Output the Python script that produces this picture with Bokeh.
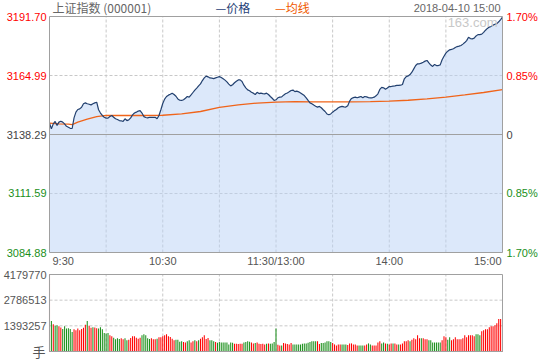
from bokeh.plotting import figure
from bokeh.models import Range1d, Label
from bokeh.embed import file_html
from bokeh.resources import INLINE

# ---------------- data ----------------
minutes = list(range(241))
price = [
    3143.4, 3140.9, 3143.1, 3144.2, 3142.4, 3143.9, 3144.3, 3143.9, 3143.1, 3142.0,
    3141.6, 3141.1, 3141.0, 3145.8, 3148.4, 3149.6, 3149.9, 3150.6, 3152.2, 3152.6,
    3152.2, 3152.0, 3151.7, 3152.2, 3152.6, 3152.9, 3149.5, 3148.0, 3146.9, 3146.1,
    3145.7, 3145.7, 3146.4, 3146.9, 3146.1, 3145.4, 3145.1, 3144.6, 3144.5, 3144.2,
    3145.4, 3144.6, 3144.9, 3145.8, 3147.2, 3148.0, 3148.4, 3148.9, 3149.1, 3148.0,
    3146.4, 3146.0, 3145.8, 3146.1, 3146.0, 3146.0, 3146.1, 3145.4, 3146.9, 3149.5,
    3152.3, 3154.3, 3155.5, 3156.1, 3156.5, 3157.0, 3156.4, 3155.6, 3154.4, 3153.8,
    3153.7, 3154.0, 3154.7, 3155.5, 3155.2, 3156.2, 3157.3, 3158.4, 3159.3, 3160.3,
    3161.2, 3162.7, 3163.9, 3164.7, 3164.4, 3163.9, 3163.8, 3163.6, 3163.9, 3164.2,
    3164.5, 3164.1, 3163.5, 3162.9, 3162.1, 3161.1, 3160.3, 3160.8, 3161.7, 3162.4,
    3163.0, 3163.0, 3162.3, 3160.6, 3159.4, 3158.5, 3158.1, 3157.4, 3157.0, 3156.4,
    3157.4, 3156.8, 3157.0, 3156.8, 3156.7, 3157.0, 3156.4, 3155.5, 3154.7, 3153.7,
    3154.0, 3154.9, 3155.2, 3155.3, 3156.1, 3156.7, 3157.1, 3157.6, 3158.2, 3158.4,
    3157.7, 3157.9, 3157.6, 3157.1, 3156.5, 3155.9, 3154.9, 3153.7, 3152.6, 3152.2,
    3151.6, 3151.1, 3150.7, 3151.0, 3150.4, 3149.5, 3148.7, 3147.6, 3147.2, 3147.6,
    3148.4, 3149.1, 3149.6, 3150.4, 3150.8, 3151.0, 3150.8, 3150.7, 3151.3, 3153.4,
    3154.6, 3155.0, 3155.2, 3154.9, 3155.2, 3155.5, 3154.9, 3155.5, 3155.3, 3155.0,
    3154.9, 3154.9, 3155.2, 3155.8, 3156.7, 3158.7, 3159.6, 3159.4, 3158.8, 3159.3,
    3160.0, 3160.0, 3160.2, 3160.3, 3160.5, 3160.5, 3160.6, 3160.9, 3163.5, 3164.5,
    3164.8, 3165.4, 3166.5, 3168.0, 3169.5, 3170.3, 3170.3, 3170.6, 3171.0, 3171.5,
    3171.8, 3170.7, 3169.7, 3169.1, 3170.0, 3169.5, 3169.5, 3169.8, 3172.1, 3173.7,
    3175.1, 3176.0, 3176.6, 3176.8, 3177.1, 3177.7, 3178.1, 3178.3, 3178.6, 3179.2,
    3179.9, 3180.8, 3182.3, 3181.7, 3181.6, 3181.9, 3182.9, 3183.5, 3183.5, 3183.7,
    3184.5, 3185.5, 3186.3, 3186.9, 3187.2, 3187.8, 3188.2, 3188.5, 3189.3, 3190.3, 3191.4,
]
avg_minutes = [0, 5, 10, 12, 15, 20, 25, 30, 40, 50, 60, 70, 80, 90, 100, 110, 120,
               130, 140, 150, 160, 170, 180, 190, 200, 210, 220, 230, 240]
avg_price = [3143.4, 3143.1, 3143.0, 3142.8, 3143.9, 3145.2, 3146.4, 3146.9, 3146.9,
             3146.9, 3147.0, 3147.6, 3148.7, 3150.6, 3151.7, 3152.5, 3152.9, 3153.2,
             3153.1, 3153.1, 3153.1, 3153.2, 3153.4, 3153.8, 3154.4, 3155.2, 3156.2,
             3157.3, 3158.6]
volume = [
    4179770, 1650000, 1485000, 1393000, 1430000, 1375000, 1302000, 1228000, 1375000, 1247000,
    1265000, 1228000, 1063000, 1210000, 1155000, 1247000, 1155000, 1228000, 1283000, 1448000,
    1650000, 1393000, 1283000, 1320000, 1302000, 1265000, 1247000, 1320000, 1210000, 1008000,
    972000, 1008000, 880000, 825000, 752000, 660000, 715000, 678000, 715000, 660000,
    715000, 605000, 642000, 733000, 825000, 825000, 752000, 697000, 752000, 880000,
    935000, 880000, 715000, 678000, 715000, 660000, 660000, 697000, 770000, 770000,
    825000, 880000, 935000, 825000, 788000, 697000, 605000, 642000, 642000, 532000,
    550000, 513000, 495000, 550000, 605000, 495000, 550000, 605000, 550000, 605000,
    697000, 770000, 880000, 678000, 733000, 605000, 605000, 550000, 513000, 477000,
    513000, 495000, 495000, 495000, 495000, 385000, 495000, 477000, 422000, 422000,
    403000, 422000, 422000, 495000, 513000, 550000, 532000, 495000, 440000, 458000,
    495000, 422000, 403000, 422000, 385000, 422000, 440000, 422000, 440000, 513000,
    1247000, 367000, 330000, 330000, 458000, 440000, 403000, 385000, 458000, 385000,
    385000, 385000, 385000, 385000, 422000, 440000, 440000, 477000, 513000, 550000,
    550000, 550000, 550000, 403000, 458000, 458000, 495000, 550000, 550000, 513000,
    458000, 385000, 330000, 385000, 385000, 385000, 385000, 385000, 348000, 440000,
    440000, 385000, 385000, 330000, 330000, 330000, 330000, 330000, 385000, 440000,
    385000, 330000, 330000, 330000, 495000, 550000, 440000, 495000, 440000, 422000,
    385000, 440000, 440000, 440000, 385000, 385000, 385000, 440000, 550000, 550000,
    605000, 550000, 642000, 715000, 660000, 880000, 715000, 715000, 715000, 660000,
    660000, 605000, 605000, 495000, 495000, 495000, 495000, 495000, 605000, 825000,
    770000, 642000, 770000, 605000, 660000, 770000, 660000, 660000, 660000, 715000,
    880000, 770000, 880000, 880000, 880000, 825000, 935000, 935000, 880000, 1100000,
    1155000, 1210000, 1210000, 1320000, 1375000, 1375000, 1430000, 1540000, 1760000, 1760000, 110000,
]
# "+" = up minute (red bar), "-" = down minute (green bar)
direction = "".join([
    "+-+--++------", "+++++++", "-", "++", "-", "++", "------", "++", "----", "++", "--",
    "+++++++", "-----", "+++", "-", "+++++++++", "----", "++", "--", "++", "-", "+", "-",
    "+++++", "---", "+", "---------", "+++++", "----", "++", "-", "+++++", "-", "+", "----",
    "++", "-", "+++++", "-------------", "++", "------", "+++++", "---", "++++++", "---",
    "++", "--", "+++++", "--", "+", "-", "++", "-", "++", "-", "+++++", "-", "+++++", "-",
    "+++", "-------", "+++", "--", "+++++++++++++", "---", "++++++++++++",
])
direction = (direction + "+" * len(volume))[:len(volume)]

pre_close = 3138.29
price_ticks = [3191.70, 3164.99, 3138.29, 3111.59, 3084.88]
price_tick_labels = ["3191.70", "3164.99", "3138.29", "3111.59", "3084.88"]
pct_labels = ["1.70%", "0.85%", "0", "0.85%", "1.70%"]
time_ticks = [0, 60, 120, 180, 240]
time_labels = ["9:30", "10:30", "11:30/13:00", "14:00", "15:00"]
grid_times = [30, 60, 90, 120, 150, 180, 210]
vol_ticks = [4179770, 2786513, 1393257, 0]
vol_labels = ["4179770", "2786513", "1393257", "手"]
title_text = "上证指数 (000001)"
legend_price = "—价格"
legend_avg = "—均线"
stamp = "2018-04-10 15:00"
watermark = "163.com"

# ---------------- styles / layout ----------------
RED = "#ff0000"
GREEN = "#1a8f1a"
DARK_TXT = "#444444"
GRAY_TXT = "#555555"
FRAME = "#a0a0a0"
GRID = "#c8c8c8"
LINE_BLUE = "#22406f"
AVG_ORANGE = "#f0641a"
FONT = "Liberation Sans"
CJK = "Noto Sans CJK SC"

W, H = 540, 360
PX_L, PX_R = 49, 502      # panel left / right (px)
PY_T, PY_B = 16, 252      # price panel top / bottom (px)
VY_T, VY_B = 274, 351     # volume panel top / bottom (px)

t0, t1 = time_ticks[0], time_ticks[-1]
sx = (PX_R - PX_L) / (t1 - t0)
x_lo = t0 - PX_L / sx
x_hi = x_lo + W / sx
p_top, p_bot = price_ticks[0], price_ticks[-1]
sy = (PY_B - PY_T) / (p_top - p_bot)
y_hi = p_top + PY_T / sy
y_lo = y_hi - H / sy
v_top = vol_ticks[0]
sv = (VY_B - VY_T) / v_top
v_hi = v_top + VY_T / sv
v_lo = v_hi - H / sv

p = figure(width=W, height=H, x_range=Range1d(x_lo, x_hi), y_range=Range1d(y_lo, y_hi),
           output_backend="svg", toolbar_location=None,
           x_axis_location=None, y_axis_location=None, min_border=0)
p.extra_y_ranges = {"vol": Range1d(v_lo, v_hi)}
p.outline_line_color = None
p.background_fill_color = "white"
p.border_fill_color = "white"
p.xgrid.visible = False
p.ygrid.visible = False


def add_label(x, y, text, color, size="11px", align="left", baseline="middle",
              xo=0, yo=0, font=FONT, rng="default"):
    p.add_layout(Label(x=x, y=y, text=text, text_color=color, text_font_size=size,
                       text_align=align, text_baseline=baseline, x_offset=xo,
                       y_offset=yo, text_font=font, y_range_name=rng))


n = len(grid_times)
# ---- price panel ----
p.segment(x0=grid_times, y0=[p_bot] * n, x1=grid_times, y1=[p_top] * n,
          line_color=GRID, line_dash="3 2", line_width=1)
p.segment(x0=[t0, t0], y0=[price_ticks[1], price_ticks[3]], x1=[t1, t1],
          y1=[price_ticks[1], price_ticks[3]], line_color=GRID, line_dash="3 2", line_width=1)
p.varea(x=minutes, y1=p_bot, y2=price, fill_color="#b9d1f5", fill_alpha=0.5)
p.segment(x0=[t0], y0=[pre_close], x1=[t1], y1=[pre_close], line_color=FRAME, line_width=1)
p.line(avg_minutes, avg_price, line_color=AVG_ORANGE, line_width=1.3)
p.line(minutes, price, line_color=LINE_BLUE, line_width=1.2)
p.quad(left=[t0], right=[t1], bottom=[p_bot], top=[p_top], fill_color=None,
       line_color=FRAME, line_width=1)

# ---- volume panel ----
p.segment(x0=grid_times, y0=[0] * n, x1=grid_times, y1=[v_top] * n, y_range_name="vol",
          line_color=GRID, line_dash="3 2", line_width=1)
p.segment(x0=[t0, t0], y0=[vol_ticks[1], vol_ticks[2]], x1=[t1, t1],
          y1=[vol_ticks[1], vol_ticks[2]], y_range_name="vol",
          line_color=GRID, line_dash="3 2", line_width=1)
bar_colors = [RED if d == "+" else GREEN for d in direction]
p.vbar(x=minutes, top=volume, bottom=0, width=0.55, fill_color=bar_colors, line_color=None,
       y_range_name="vol")
p.quad(left=[t0], right=[t1], bottom=[0], top=[v_top], fill_color=None,
       line_color=FRAME, line_width=1, y_range_name="vol")

# ---- texts ----
left_colors = [RED, RED, DARK_TXT, GREEN, GREEN]
for v, t, c, pc in zip(price_ticks, price_tick_labels, left_colors, pct_labels):
    add_label(t0, v, t, c, align="right", xo=-3)
    add_label(t1, v, pc, c, align="left", xo=4)

for t, lab in zip(time_ticks, time_labels):
    if t == t0:
        add_label(t, p_bot, lab, GRAY_TXT, align="left", xo=3, yo=-8)
    elif t == t1:
        add_label(t, p_bot, lab, GRAY_TXT, align="right", xo=-1, yo=-8)
    else:
        add_label(t, p_bot, lab, GRAY_TXT, align="center", yo=-8)

add_label(t0, p_top, title_text, "#666666", size="12px", xo=3, yo=9, font=CJK)
add_label(88, p_top, legend_price, "#1f3f77", size="12px", yo=9, font=CJK)
add_label(119.5, p_top, legend_avg, "#f05a00", size="12px", yo=9, font=CJK)
add_label(t1, p_top, stamp, "#666666", size="11px", align="right", xo=-2, yo=9)
add_label(t1, p_top, watermark, "#c8c8c8", size="13px", align="right", xo=-5, yo=-6)

for v, t in zip(vol_ticks, vol_labels):
    if t == "手":
        add_label(t0, v, t, GRAY_TXT, size="13px", align="right", xo=-4, rng="vol", font=CJK)
    else:
        add_label(t0, v, t, GRAY_TXT, size="11px", align="right", xo=-3, rng="vol")

open("out.html", "w").write(file_html(p, INLINE))
